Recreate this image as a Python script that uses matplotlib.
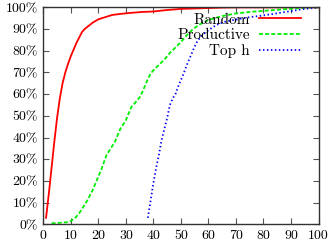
import matplotlib
matplotlib.use("Agg")
from matplotlib import pyplot as plt

plt.rcParams['font.family'] = ['cmr10', 'DejaVu Serif']
plt.rcParams['mathtext.fontset'] = 'cm'
plt.rcParams['axes.formatter.use_mathtext'] = True
plt.rcParams['font.size'] = 10

# data
random_x = [1, 2, 3, 4, 5, 6, 7, 8, 9, 10, 11, 12, 13, 14, 15, 16, 18, 20, 22, 25,
            28, 32, 36, 40, 45, 50, 55, 60, 65, 70, 80, 90, 100]
random_y = [3, 14, 26, 38, 49, 58, 65, 70, 74, 77.5, 80.5, 83.5, 86, 88.5, 90, 91, 93, 94.5,
            95.3, 96.5, 97, 97.5, 97.9, 98.1, 98.8, 99.3, 99.5, 99.7, 99.9, 100, 100, 100, 100]

prod_x = [3, 5, 7, 9, 10, 11, 12, 13, 14, 15, 16, 17, 18, 19, 20, 21, 22, 23, 24, 25,
          26, 27, 28, 29, 30, 31, 32, 33, 34, 35, 36, 37, 38, 39, 40, 42, 44, 46, 48,
          50, 52, 54, 56, 58, 60, 65, 70, 75, 80, 85, 90, 95, 97, 100]
prod_y = [0.5, 0.6, 0.8, 1, 1.5, 2.5, 3.5, 5, 7, 9, 11, 13.5, 16, 19, 22, 25, 28.5, 32,
          34, 36, 38, 41, 44, 46, 48, 51, 54, 55.5, 57, 58.5, 61, 64, 67, 69.5, 71, 73.5,
          76, 79, 81.5, 84, 87, 89.5, 91.5, 93, 94.2, 96, 97.2, 97.9, 98.4, 98.9, 99.4,
          99.8, 100, 100]

toph_x = [38, 39, 40, 41, 42, 43, 44, 45, 46, 47, 48, 49, 50, 51, 52, 53, 54, 55, 56,
          58, 60, 63, 66, 70, 75, 80, 85, 90, 95, 100]
toph_y = [3, 11, 19, 26, 32, 39, 44, 49, 55, 58, 60, 63.5, 66.5, 69.5, 73, 76, 79, 82,
          84.5, 87.5, 89.5, 92, 93.4, 94.4, 95.5, 96.3, 97.3, 98.3, 99.3, 100]

x_ticks = [0, 10, 20, 30, 40, 50, 60, 70, 80, 90, 100]
y_ticks = [0, 10, 20, 30, 40, 50, 60, 70, 80, 90, 100]
y_labels = ['0%', '10%', '20%', '30%', '40%', '50%', '60%', '70%', '80%', '90%', '100%']


def main():
    fig = plt.figure(figsize=(3.32, 2.44), dpi=100)
    ax = fig.add_axes([0.1304, 0.0807, 0.829, 0.889])

    ax.plot(random_x, random_y, color='#ff0000', lw=1.3, label='Random')
    ax.plot(prod_x, prod_y, color='#00ee00', lw=1.3, dashes=(2.2, 1.2), label='Productive')
    ax.plot(toph_x, toph_y, color='#0000ff', lw=1.3, dashes=(0.8, 1.4), label='Top h')

    ax.set_xlim(0, 100)
    ax.set_ylim(0, 100)
    ax.set_xticks(x_ticks)
    ax.set_xticklabels([str(v) for v in x_ticks])
    ax.set_yticks(y_ticks)
    ax.set_yticklabels(y_labels)
    ax.tick_params(direction='in', length=4, width=0.8, color='#555555',
                   top=True, right=True, pad=4)
    for s in ax.spines.values():
        s.set_color('#333333')
        s.set_linewidth(1.0)

    leg = ax.legend(loc='upper right', bbox_to_anchor=(0.936, 0.975), frameon=False,
                    markerfirst=False, handlelength=2.75, handletextpad=0.6,
                    labelspacing=0.12, borderaxespad=0, borderpad=0, fontsize=11)
    for t in leg.get_texts():
        t.set_ha('right')

    fig.savefig('out.png', dpi=100)


main()
